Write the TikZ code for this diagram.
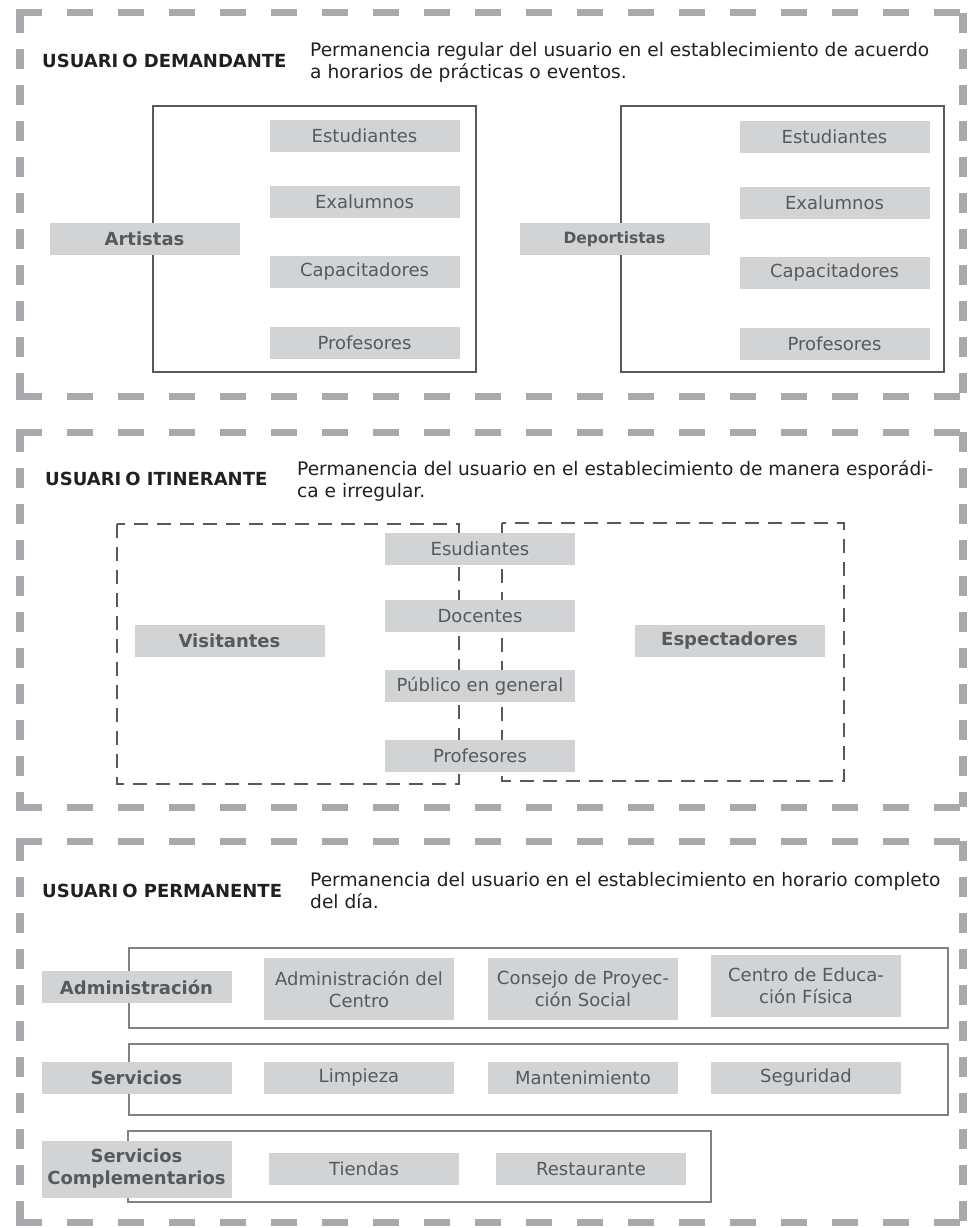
\documentclass[tikz,border=0pt]{standalone}
\usepackage{fontspec}
\setmainfont{DejaVu Sans}
\usepackage{xcolor}
\usepackage{tikz}
\usetikzlibrary{positioning}

\definecolor{framegray}{HTML}{A7A9AC}
\definecolor{boxgray}{HTML}{D1D3D4}
\definecolor{textgray}{HTML}{58595B}
\definecolor{linegray}{HTML}{58595B}
\definecolor{rowgray}{HTML}{808285}
\definecolor{inkblack}{HTML}{231F20}

\tikzset{
  item/.style={fill=boxgray, text=textgray, minimum width=190, minimum height=32,
    inner sep=0, align=center, font=\fontsize{18}{22}\selectfont},
  head/.style={item, font=\bfseries\fontsize{18}{22}\selectfont},
  title/.style={anchor=base west, inner sep=0, text=inkblack,
    font=\bfseries\fontsize{18}{22}\selectfont},
  desc/.style={anchor=base west, inner sep=0, align=left, text=inkblack,
    font=\fontsize{18.6}{22}\selectfont},
  hframe/.style={draw=framegray, line width=7, dash pattern=on 26 off 25},
  vframe/.style={draw=framegray, line width=8, dash pattern=on 20 off 16},
  group/.style={draw=linegray, line width=1.6},
  rowbox/.style={draw=rowgray, line width=2.4},
  dgroup/.style={draw=linegray, line width=2.2, dash pattern=on 14 off 9}
}

\begin{document}
\begin{tikzpicture}[x=1pt, y=-1pt]

\useasboundingbox (0,0) rectangle (970,1228);

% dashed frames of the three blocks
\foreach \ya/\yb in {13/396, 432/807, 841/1222}{
	\draw[hframe] (16,\ya)--(967,\ya);
	\draw[hframe] (16,\yb)--(967,\yb);
	\draw[vframe] (20,\ya)--(20,\yb);
	\draw[vframe] (963,\ya)--(963,\yb);
}

% block 1
\node[title] (dtitle) at (42,68) {USUARI\kern4pt O DEMANDANTE};
\node[desc] (ddesc) at (310,79) {Permanencia regular del usuario en el establecimiento de acuerdo\\a horarios de prácticas o eventos.};

\draw[group] (153,106) rectangle (476,372);
\draw[group] (621,106) rectangle (944,372);

\node[head] (artistas) at (144.5,239) {Artistas};
\node[head, font=\bfseries\fontsize{15.5}{20}\selectfont] (deportistas) at (614.5,239) {Deportistas};

\foreach \t/\y [count=\i] in {Estudiantes/136, Exalumnos/202, Capacitadores/272, Profesores/343}{
	\node[item] (art\i) at (364.5,\y) {\t};
	\node[item] (dep\i) at (834.5,\y+1) {\t};
}

% block 2
\node[title] (ititle) at (45,485) {USUARI\kern4pt O ITINERANTE};
\node[desc] (idesc) at (297,497) {Permanencia del usuario en el establecimiento de manera esporádi-\\ca e irregular.};

\draw[dgroup] (117,524) rectangle (459,784);
\draw[dgroup] (502,523) rectangle (844,781);

\node[head] (visitantes) at (229.5,641) {Visitantes};
\node[head] (espectadores) at (729.5,641) {Espectadores};

\foreach \t/\y [count=\i] in {Esudiantes/548.5, Docentes/616, Público en general/686, Profesores/756}{
	\node[item] (pub\i) at (480,\y) {\t};
}

% block 3
\node[title] (ptitle) at (42,897) {USUARI\kern4pt O PERMANENTE};
\node[desc] (pdesc) at (310,908) {Permanencia del usuario en el establecimiento en horario completo\\del día.};

\draw[rowbox] (129,948) rectangle (948,1028);
\draw[rowbox] (129,1044) rectangle (948,1115);
\draw[rowbox] (128,1131) rectangle (711,1202);

\node[head] (admin) at (136.5,987) {Administración};
\node[item, minimum height=62] (adm1) at (359,989) {Administración del\\Centro};
\node[item, minimum height=62] (adm2) at (583,989) {Consejo de Proyec-\\ción Social};
\node[item, minimum height=62] (adm3) at (806,986) {Centro de Educa-\\ción Física};

\node[head] (servicios) at (136.5,1078) {Servicios};
\node[item] (ser1) at (359,1078) {Limpieza};
\node[item] (ser2) at (583,1078) {Mantenimiento};
\node[item] (ser3) at (806,1078) {Seguridad};

\node[head, minimum height=57] (complem) at (136.5,1169) {Servicios\\Complementarios};
\node[item] (com1) at (364,1169) {Tiendas};
\node[item] (com2) at (591,1169) {Restaurante};

\end{tikzpicture}
\end{document}
